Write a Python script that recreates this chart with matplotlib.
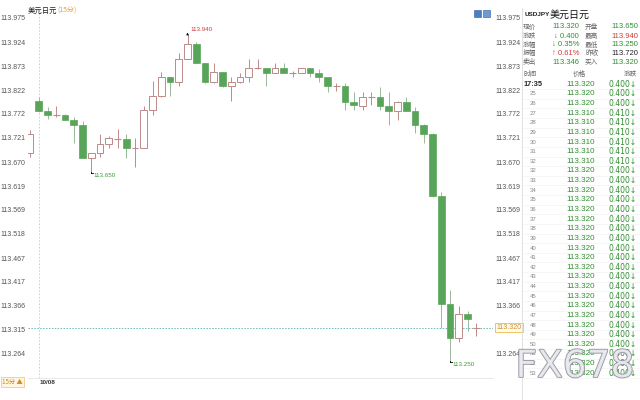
import matplotlib

matplotlib.use("Agg")
import matplotlib.pyplot as plt
import matplotlib.patheffects as pe
from matplotlib.patches import Rectangle

plt.rcParams["font.family"] = ["Noto Sans CJK SC", "DejaVu Sans"]
NUM_FONT = ["Liberation Sans Narrow", "Liberation Sans", "DejaVu Sans"]

# 15-minute USDJPY candles
opens = [113.689, 113.799, 113.779, 113.769, 113.769, 113.759, 113.749, 113.679, 113.689, 113.708,
         113.719, 113.719, 113.699, 113.699, 113.780, 113.809, 113.849, 113.839, 113.888, 113.919,
         113.879, 113.839, 113.860, 113.830, 113.839, 113.850, 113.869, 113.869, 113.859, 113.869,
         113.859, 113.859, 113.869, 113.859, 113.849, 113.830, 113.830, 113.798, 113.789, 113.808,
         113.808, 113.789, 113.779, 113.798, 113.779, 113.749, 113.730, 113.598, 113.369, 113.297,
         113.348, 113.320]
highs = [113.738, 113.808, 113.786, 113.789, 113.771, 113.766, 113.756, 113.689, 113.730, 113.725,
         113.739, 113.730, 113.720, 113.789, 113.842, 113.860, 113.851, 113.900, 113.940, 113.925,
         113.880, 113.880, 113.861, 113.849, 113.858, 113.888, 113.888, 113.870, 113.879, 113.879,
         113.863, 113.870, 113.870, 113.866, 113.850, 113.838, 113.838, 113.819, 113.819, 113.819,
         113.828, 113.819, 113.799, 113.808, 113.787, 113.750, 113.731, 113.607, 113.399, 113.365,
         113.354, 113.329]
lows = [113.681, 113.777, 113.761, 113.766, 113.758, 113.710, 113.679, 113.650, 113.680, 113.699,
        113.699, 113.679, 113.660, 113.699, 113.770, 113.808, 113.810, 113.831, 113.888, 113.879,
        113.838, 113.838, 113.829, 113.799, 113.838, 113.840, 113.868, 113.830, 113.859, 113.858,
        113.851, 113.858, 113.851, 113.840, 113.819, 113.820, 113.780, 113.780, 113.780, 113.791,
        113.780, 113.749, 113.759, 113.778, 113.731, 113.710, 113.597, 113.318, 113.250, 113.290,
        113.312, 113.302]
closes = [113.730, 113.779, 113.770, 113.769, 113.759, 113.749, 113.679, 113.689, 113.708, 113.720,
          113.719, 113.699, 113.699, 113.780, 113.810, 113.850, 113.839, 113.888, 113.919, 113.879,
          113.839, 113.860, 113.830, 113.839, 113.850, 113.869, 113.869, 113.859, 113.869, 113.859,
          113.859, 113.869, 113.859, 113.849, 113.830, 113.830, 113.798, 113.790, 113.808, 113.808,
          113.789, 113.779, 113.798, 113.779, 113.749, 113.730, 113.598, 113.369, 113.297, 113.348,
          113.338, 113.320]

y_ticks = [113.975, 113.924, 113.873, 113.822, 113.772, 113.721, 113.670, 113.619,
           113.569, 113.518, 113.467, 113.417, 113.366, 113.315, 113.264]
last_price = 113.320
day_label = "10/08"
day_index = 1

# (candle index, price, label, colour, above?)
extremes = [(18, 113.940, "113.940", "#d03a3a", True),
            (7, 113.650, "113.650", "#3d9a3d", False),
            (48, 113.250, "113.250", "#3d9a3d", False)]

quote_rows = [
    ("现价", "113.320", "#2f8f2f", "开盘", "113.650", "#2f8f2f"),
    ("涨跌", "↓ 0.400", "#2f8f2f", "最高", "113.940", "#d03a3a"),
    ("涨幅", "↓ 0.35%", "#2f8f2f", "最低", "113.250", "#2f8f2f"),
    ("振幅", "↑ 0.61%", "#d03a3a", "昨收", "113.720", "#222222"),
    ("卖出", "113.346", "#2f8f2f", "买入", "113.320", "#2f8f2f"),
]

tick_times = ["17:35", "25", "26", "27", "28", "29", "30", "31", "32", "32", "33", "34", "35",
              "36", "37", "38", "39", "40", "41", "42", "43", "44", "45", "46", "47", "48",
              "49", "50", "51", "52", "53"]
tick_prices = ["113.320", "113.320", "113.320", "113.310", "113.310", "113.310", "113.310",
               "113.310", "113.310"] + ["113.320"] * 22
tick_changes = ["0.400", "0.400", "0.400", "0.410", "0.410", "0.410", "0.410", "0.410",
                "0.410"] + ["0.400"] * 22

UP_EDGE = "#be8a8a"
DOWN_FILL = "#58a458"
DOWN_WICK = "#9ab89a"


def fx(px):
    return px / 640


def fy(py):
    return 1 - py / 400


fig = plt.figure(figsize=(6.4, 4), dpi=100)
fig.patch.set_facecolor("white")

ax = fig.add_axes([fx(28), fy(378), fx(493 - 28), (378 - 8) / 400])
ax.set_xlim(-0.229, 52.914)
ax.set_ylim(113.2132, 113.996)

width = 0.75
for i, (o, h, l, c) in enumerate(zip(opens, highs, lows, closes)):
    if c > o:
        ax.vlines(i, l, h, color=UP_EDGE, lw=0.7, zorder=2)
        ax.bar(i, c - o, width, bottom=o, facecolor="white", edgecolor=UP_EDGE,
               lw=0.7, zorder=3)
    elif c < o:
        ax.vlines(i, l, h, color=DOWN_WICK, lw=0.7, zorder=2)
        ax.bar(i, o - c, width, bottom=c, facecolor=DOWN_FILL, edgecolor=DOWN_FILL,
               lw=0.5, zorder=3)
    else:
        ax.vlines(i, l, h, color=UP_EDGE, lw=0.7, zorder=2)
        ax.hlines(o, i - width / 2, i + width / 2, color=UP_EDGE, lw=0.8, zorder=3)

for i, price, label, col, above in extremes:
    if above:
        ax.annotate("", xy=(i, price + 0.004), xytext=(i, price),
                    arrowprops=dict(arrowstyle="-|>", lw=0.5, color="k", mutation_scale=3))
        ax.text(i + 0.3, price + 0.005, label, fontsize=4.5, color=col, family=NUM_FONT,
                ha="left", va="bottom")
    else:
        ax.plot([i, i], [price, price - 0.004], color="k", lw=0.6)
        ax.plot([i, i + 0.25], [price - 0.004, price - 0.004], color="k", lw=0.6)
        ax.text(i + 0.3, price - 0.004, label, fontsize=4.5, color=col, family=NUM_FONT,
                ha="left", va="top")

ax.axhline(last_price, color="#6fb8b0", lw=0.7, ls=(0, (1.5, 1.5)), zorder=1)
ax.axvline(day_index, color="#c8c8c8", lw=0.6, ls=(0, (2, 2)), zorder=1)

ax.set_yticks(y_ticks)
ax.set_yticklabels([f"{v:.3f}" for v in y_ticks], family=NUM_FONT)
ax.tick_params(axis="y", length=0, labelsize=5, labelcolor="#555555", labelright=True)
ax.yaxis.set_tick_params(which="major", pad=2)
ax.set_xticks([])
for side in ["left", "top", "right"]:
    ax.spines[side].set_visible(False)
ax.spines["bottom"].set_color("#e4e4e4")
ax.spines["bottom"].set_linewidth(0.6)

ax.text(1.007, last_price, f"{last_price:.3f}", transform=ax.get_yaxis_transform(),
        fontsize=5, color="#d09030", family=NUM_FONT, ha="left", va="center",
        zorder=6, clip_on=False,
        bbox=dict(boxstyle="square,pad=0.2", facecolor="#fffbea", edgecolor="#f0b850",
                  lw=0.6))

# header and footer of the chart
fig.text(fx(28), fy(11), "美元日元", fontsize=5.3, color="#222222", va="center")
fig.text(fx(57), fy(11), "(15分)", fontsize=5, color="#e0a040", va="center")
fig.text(fx(40), fy(382), day_label, fontsize=4.5, color="#333333", weight="bold",
         family=NUM_FONT, va="center")
fig.text(fx(2), fy(382), "15分 ▲", fontsize=4.5, color="#d08a20", va="center",
         bbox=dict(boxstyle="square,pad=0.2", facecolor="#fff6e0", edgecolor="#f0c070", lw=0.5))
for x0, col in [(474, "#4a7fc0"), (483, "#6f9ad0")]:
    fig.patches.append(Rectangle((fx(x0), fy(17)), 7 / 640, 7 / 400, transform=fig.transFigure,
                                 facecolor=col, edgecolor="#2f5f9f", lw=0.4))

# quote panel on the right
fig.add_artist(plt.Line2D([fx(522), fx(522)], [fy(8), fy(400)], color="#dddddd", lw=0.6))
fig.text(fx(525), fy(15), "USDJPY", fontsize=4.6, color="#222222", family=NUM_FONT,
         weight="bold", va="center")
fig.text(fx(550), fy(15), "美元日元", fontsize=7.2, color="#111111", va="center")

row_y = [26.7, 36, 44.7, 53.5, 62.3]
for y, (l1, v1, c1, l2, v2, c2) in zip(row_y, quote_rows):
    fig.text(fx(523), fy(y), l1, fontsize=4.8, color="#666666", va="center")
    fig.text(fx(566), fy(y), v1, fontsize=5.5, color=c1, family=NUM_FONT, ha="center",
             va="center")
    fig.text(fx(585), fy(y), l2, fontsize=4.8, color="#666666", va="center")
    fig.text(fx(625), fy(y), v2, fontsize=5.5, color=c2, family=NUM_FONT, ha="center",
             va="center")

fig.text(fx(523), fy(74), "时间", fontsize=4.8, color="#666666", va="center")
fig.text(fx(579), fy(74), "价格", fontsize=4.8, color="#666666", va="center", ha="center")
fig.text(fx(637), fy(74), "涨跌", fontsize=4.8, color="#666666", va="center", ha="right")

for k, (t, p, ch) in enumerate(zip(tick_times, tick_prices, tick_changes)):
    y = 84.3 + k * 9.63
    if k == 0:
        fig.text(fx(523), fy(y), t, fontsize=5.3, color="#222222", family=NUM_FONT,
                 weight="bold", va="center")
    else:
        fig.text(fx(533), fy(y), t, fontsize=4.3, color="#888888", family=NUM_FONT,
                 ha="center", va="center")
    fig.text(fx(581), fy(y), p, fontsize=5.8, color="#2f8f2f", family=NUM_FONT,
             ha="center", va="center")
    fig.text(fx(637), fy(y), ch + "↓", fontsize=5.5, color="#2f8f2f",
             family=["Liberation Sans Narrow", "DejaVu Sans"], ha="right", va="center")
    fig.add_artist(plt.Line2D([fx(523), fx(640)], [fy(y + 4.8), fy(y + 4.8)],
                              color="#f0f0f0", lw=0.4))

fig.text(fx(575), fy(367), "FX678", fontsize=27, color="#e9e9f0", family="DejaVu Sans",
         ha="center", va="center", alpha=0.9, zorder=10,
         path_effects=[pe.withStroke(linewidth=1.2, foreground="#8a8a95")])

fig.savefig("out.png", dpi=100)
